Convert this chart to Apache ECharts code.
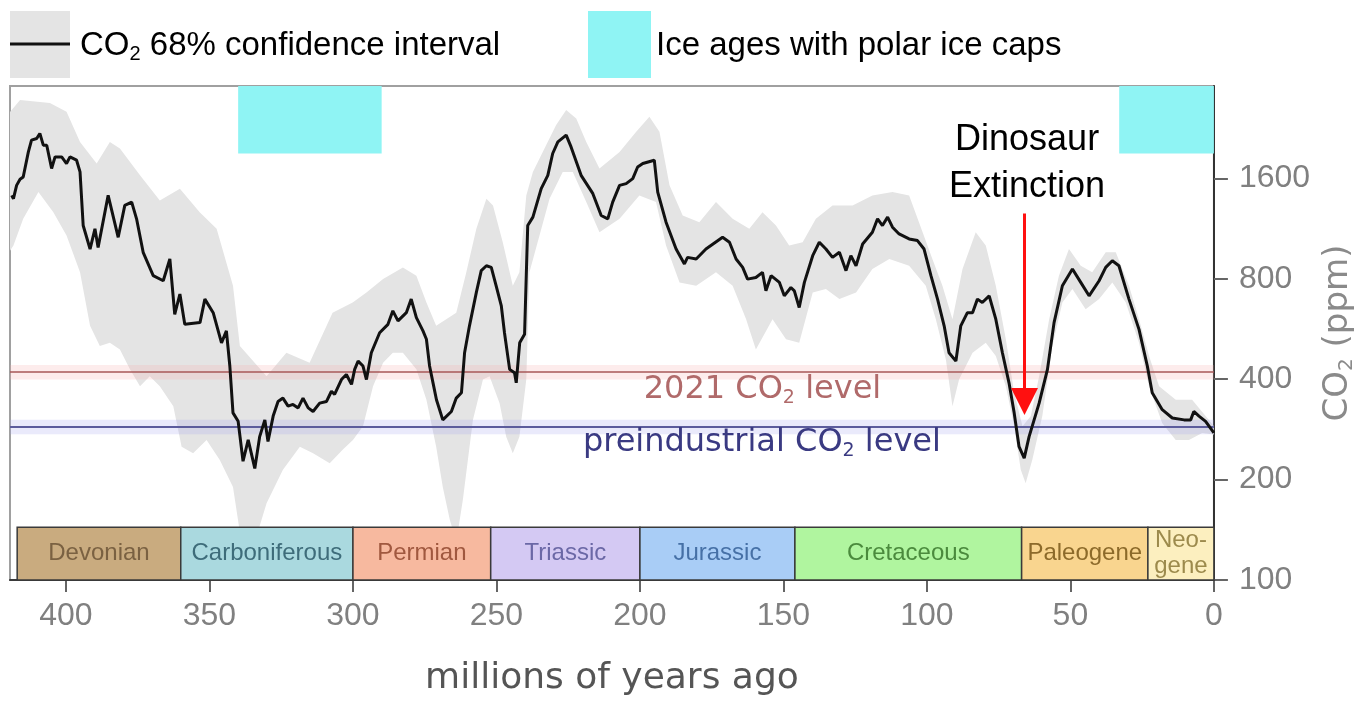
<!DOCTYPE html>
<html><head><meta charset="utf-8">
<script src="https://cdn.jsdelivr.net/npm/echarts@6/dist/echarts.min.js"></script>
<style>html,body{margin:0;padding:0;background:#fff}#c{width:1365px;height:702px}</style>
</head><body><div id="c"></div>
<script>
// ---- DATA (millions of years ago, CO2 ppm) ----
const years = [418.9,418.3,417.2,416.0,414.9,413.1,412.0,410.2,409.1,407.9,406.7,405.0,403.8,401.5,399.8,398.6,396.3,395.1,394.0,391.6,389.9,388.8,385.3,381.8,379.5,377.1,375.4,373.1,369.6,366.1,363.8,362.1,360.3,358.6,353.3,351.6,348.7,345.8,344.1,342.9,341.8,340.0,338.3,336.5,334.2,332.5,330.7,329.6,327.8,326.1,324.4,322.6,320.9,319.1,317.4,315.6,
313.9,311.6,309.2,307.5,306.4,304.0,302.3,300.5,299.4,298.2,296.5,295.3,293.6,290.7,287.8,286.1,284.3,281.4,279.7,277.9,275.6,274.4,273.3,272.1,270.9,268.7,265.7,264.0,262.2,261.1,259.4,257.0,255.3,253.5,251.8,250.1,248.3,247.2,245.4,243.7,243.1,241.9,240.2,239.1,237.3,234.4,232.1,230.4,228.6,225.7,224.0,220.5,216.4,213.5,211.2,
209.5,207.1,204.8,202.5,200.8,199.0,195.0,193.8,190.9,187.4,184.5,183.4,180.4,177.0,171.2,168.8,166.5,164.2,162.5,159.6,157.3,156.1,154.3,151.4,149.7,147.4,146.2,144.5,142.7,139.8,137.5,135.2,132.9,130.5,128.2,126.5,124.7,122.4,119.0,117.2,115.5,113.7,112.0,109.7,
106.2,103.3,101.0,98.6,96.3,94.0,92.3,89.9,88.2,85.9,84.1,82.4,80.7,78.3,76.0,73.7,71.4,69.6,67.9,66.1,64.4,60.9,58.0,55.7,52.8,49.3,46.4,43.5,40.0,37.7,35.4,33.1,29.6,26.1,23.2,21.5,18.0,14.5,10.4,8.1,7.0,5.2,2.9,0];
const co2 = [1422,1390,1524,1589,1614,1920,2082,2106,2181,2011,2011,1712,1855,1855,1772,1855,1813,1672,1155,982,1129,993,1422,1065,1327,1358,1210,960,817,789,917,626,720,584,591,695,633,514,558,438,317,299,227,263,216,269,302,260,310,343,351,332,336,328,351,328,
320,339,343,368,360,399,413,386,428,453,438,399,480,551,584,641,598,633,695,612,558,527,438,390,347,302,320,351,364,480,578,728,846,875,865,762,663,551,428,418,390,514,545,1155,1224,1490,1633,1899,2057,2156,1987,1633,1439,1238,1210,
1358,1524,1543,1597,1730,1772,1813,1455,1182,982,886,927,917,982,1065,1029,917,865,798,807,836,736,817,780,711,753,736,656,780,938,1029,982,927,960,846,938,875,1017,1103,1210,1155,1224,1142,1090,
1053,1041,982,817,695,578,480,453,578,633,633,695,679,711,605,480,390,317,251,232,269,339,428,591,762,856,780,711,789,865,906,875,695,564,438,364,324,306,302,302,320,310,299,276];

// 68% confidence interval: upper and lower edges
const upperYears = [419.5,416.0,405.6,399.8,395.1,389.3,384.7,381.2,374.2,367.3,360.3,353.4,347.5,341.8,339.4,330.1,323.2,315.1,307.1,300.1,295.3,289.5,282.6,277.9,274.4,271.0,267.5,264.0,260.5,257.0,253.5,251.2,247.8,244.3,242.0,239.6,237.3,232.7,229.2,225.7,222.2,218.7,214.1,207.1,201.3,196.7,193.2,189.7,185.1,179.3,173.5,167.7,161.9,157.3,152.6,148.0,143.3,138.7,132.9,125.9,119.0,112.0,106.2,101.5,98.1,94.6,91.1,87.6,83.0,79.5,76.0,72.5,69.6,66.7,63.8,60.9,57.4,54.0,50.5,46.4,42.4,37.7,34.2,29.6,26.1,22.6,19.1,13.3,7.6,2.9,0];
const upper = [2528,2748,2691,2533,2057,1772,2057,1965,1633,1374,1490,1267,1129,762,503,408,480,448,633,679,728,798,865,817,679,578,605,633,836,1129,1390,1327,1029,762,836,1422,1672,2011,2310,2563,2420,2057,1712,1920,2205,2447,2205,1524,1238,1182,1358,1210,1129,1267,1155,1006,1029,1210,1327,1327,1422,1455,1422,1103,917,762,605,856,1103,1006,762,527,364,289,310,408,605,817,982,875,836,960,960,762,605,469,381,347,347,310,289];
const lowerYears = [419.5,418.3,414.9,409.6,404.4,399.8,395.1,391.6,388.2,384.7,381.2,377.7,374.2,370.8,367.3,362.6,359.7,355.7,351.0,346.4,341.8,339.4,334.2,330.1,324.4,318.5,313.9,308.1,303.5,300.0,296.5,293.0,289.5,286.1,282.6,277.9,274.4,271.0,268.7,266.3,264.0,261.7,258.2,254.7,252.4,248.9,246.6,244.3,242.0,239.6,238.5,235.0,231.5,226.9,223.4,218.7,214.1,207.1,200.2,194.4,190.9,186.2,180.4,173.5,167.7,163.0,159.6,153.8,149.1,144.5,139.8,135.2,130.5,124.7,119.0,113.1,106.2,100.4,96.9,93.4,91.1,88.8,84.1,79.5,76.0,72.5,69.6,67.3,65.6,63.3,59.8,56.3,52.8,49.3,44.7,40.0,35.4,30.7,26.1,22.6,18.0,13.3,8.7,4.1,0];
const lower = [971,1006,1210,1455,1267,1078,836,578,503,514,491,428,381,408,381,332,251,240,263,229,190,139,130,170,214,251,240,224,246,263,289,381,448,480,480,428,347,251,190,152,130,174,302,399,408,339,269,240,269,399,836,1078,1390,1672,1672,1358,1103,1210,1422,1358,1006,780,762,836,762,605,491,605,527,514,728,745,695,728,856,917,875,762,605,458,332,399,480,514,469,381,289,214,195,229,310,503,679,745,648,695,780,679,514,381,295,263,263,276,273];

// geological periods
const periodNames = ['Devonian','Carboniferous','Permian','Triassic','Jurassic','Cretaceous','Paleogene','Neo-\ngene'];
const periodStart = [417,360,300,252,200,146,67,23];
const periodEnd   = [360,300,252,200,146,67,23,0];

// ice ages with polar ice caps
const iceStart = [340,33];
const iceEnd   = [290,0];

// reference levels
const co2Level2021 = 420;
const co2Preindustrial = 288;
const extinctionAge = 66;

// ticks
const xTicks = [0,50,100,150,200,250,300,350,400];
const yTicks = [100,200,400,800,1600];

// ---- STYLE ----
const FA = '"Liberation Sans", Arial, Helvetica, sans-serif';
const FD = '"DejaVu Sans", Verdana, sans-serif';
const periodFill = ['#c9ab7f','#aad9df','#f7b99f','#d4c9f3','#a9cdf6','#b0f59f','#f9d58f','#fcefbf'];
const periodText = ['#7a6142','#3e6c7a','#a0583f','#6b68a6','#4670a6','#4b8a3d','#8c6a2a','#9c8a4c'];
const Y_MIN = 100, Y_MAX = 3026;
const BAR_TOP = 144, ICE_BOTTOM = 1900;

function subRich(size, color, font, subSize) {
  return {
    a: {fontSize: size, color: color, fontFamily: font, lineHeight: size + 4},
    s: {fontSize: subSize, color: color, fontFamily: font, lineHeight: Math.round(subSize * 0.7), verticalAlign: 'bottom'}
  };
}

const chart = echarts.init(document.getElementById('c'), null, {renderer: 'canvas'});

const periodAreas = periodNames.map((n, i) => [
  {name: n, xAxis: periodStart[i], yAxis: Y_MIN,
   itemStyle: {color: periodFill[i], borderColor: '#3a3a3a', borderWidth: 1.5, opacity: 1},
   label: {show: true, position: 'inside', color: periodText[i], fontSize: 24, lineHeight: 26, fontFamily: FA}},
  {xAxis: periodEnd[i], yAxis: BAR_TOP}
]);
const iceAreas = iceStart.map((s, i) => [
  {xAxis: s, yAxis: ICE_BOTTOM, itemStyle: {color: '#8ff4f4', opacity: 1}, label: {show: false}},
  {xAxis: iceEnd[i], yAxis: Y_MAX}
]);
const haloAreas = [
  [{xAxis: 419.5, yAxis: co2Level2021 * 0.95, itemStyle: {color: 'rgba(245,170,170,0.22)'}, label: {show: false}},
   {xAxis: 0, yAxis: co2Level2021 * 1.05}],
  [{xAxis: 419.5, yAxis: co2Preindustrial * 0.95, itemStyle: {color: 'rgba(160,160,235,0.22)'}, label: {show: false}},
   {xAxis: 0, yAxis: co2Preindustrial * 1.05}]
];

const option = {
  animation: false,
  textStyle: {fontFamily: FA},
  grid: {left: 10, right: 150, top: 86, bottom: 122, show: true, borderColor: '#a0a0a0', borderWidth: 2},
  xAxis: {
    type: 'value', inverse: true, min: 0, max: 419.5,
    axisLine: {show: true, lineStyle: {color: '#3a3a3a', width: 2}},
    axisTick: {show: true, length: 12, customValues: xTicks, lineStyle: {color: '#333', width: 1.5}},
    axisLabel: {customValues: xTicks, color: '#808080', fontSize: 32, margin: 20, fontFamily: FA,
                formatter: v => String(Math.round(v))},
    splitLine: {show: false},
    name: 'millions of years ago', nameLocation: 'middle', nameGap: 81,
    nameTextStyle: {fontSize: 36, color: '#555', fontFamily: FD}
  },
  yAxis: {
    type: 'log', logBase: 2, min: Y_MIN, max: Y_MAX, position: 'right',
    axisLine: {show: true, lineStyle: {color: '#333', width: 2}},
    axisTick: {show: true, length: 14, customValues: yTicks, lineStyle: {color: '#666', width: 2}},
    axisLabel: {customValues: yTicks, color: '#808080', fontSize: 32, margin: 25, fontFamily: FA,
                formatter: v => String(Math.round(v))},
    splitLine: {show: false},
    name: '{a|CO}{s|2}{a| (ppm)}', nameLocation: 'middle', nameRotate: 90, nameGap: 87,
    nameTextStyle: {rich: subRich(34, '#8a8a8a', FD, 20)}
  },
  graphic: [
    {type: 'rect', shape: {x: 10, y: 11, width: 60, height: 67}, style: {fill: '#e4e4e4'}},
    {type: 'line', shape: {x1: 10, y1: 44, x2: 70, y2: 44}, style: {stroke: '#111', lineWidth: 3}},
    {type: 'text', x: 80, y: 46, style: {text: '{a|CO}{s|2}{a| 68% confidence interval}', rich: subRich(33, '#111', FA, 20), verticalAlign: 'middle', align: 'left'}},
    {type: 'rect', shape: {x: 588, y: 11, width: 63, height: 67}, style: {fill: '#8ff4f4'}},
    {type: 'text', x: 656, y: 46, style: {text: '{a|Ice ages with polar ice caps}', rich: subRich(33, '#111', FA, 20), verticalAlign: 'middle', align: 'left'}}
  ],
  series: [
    {
      type: 'custom', name: 'CO2 68% confidence interval', z: 1, silent: true, clip: true,
      data: [[200, 500]],
      renderItem: (params, api) => {
        const pts = [];
        for (let i = 0; i < upperYears.length; i++) pts.push(api.coord([upperYears[i], upper[i]]));
        for (let i = lowerYears.length - 1; i >= 0; i--) pts.push(api.coord([lowerYears[i], lower[i]]));
        return {type: 'polygon', shape: {points: pts}, style: {fill: '#e4e4e4'}};
      }
    },
    {
      type: 'line', name: 'CO2', z: 4, silent: true, symbol: 'none',
      data: years.map((t, i) => [t, co2[i]]),
      lineStyle: {color: '#111', width: 3},
      markArea: {z: 2, silent: true, data: [].concat(iceAreas, haloAreas, periodAreas)},
      markLine: {
        z: 3, silent: true, symbol: ['none', 'none'], label: {show: false},
        data: [
          {yAxis: co2Level2021, lineStyle: {color: '#a85858', width: 1.5, type: 'solid'}},
          {yAxis: co2Preindustrial, lineStyle: {color: '#5c5c9c', width: 2, type: 'solid'}}
        ]
      }
    },
    {
      type: 'scatter', name: 'annotations', z: 6, silent: true, symbolSize: 0,
      itemStyle: {color: '#000', opacity: 1},
      data: [
        {value: [157.3, 373], label: {color: '#b06a6a', formatter: '{a|2021 CO}{s|2}{a| level}', rich: subRich(32, '#b06a6a', FD, 19)}},
        {value: [157.5, 258], label: {color: '#3a3a82', formatter: '{a|preindustrial CO}{s|2}{a| level}', rich: subRich(32, '#3a3a82', FD, 19)}},
        {value: [65.1, 1776], label: {color: '#000', formatter: '{d|Dinosaur}\n{d|Extinction}', rich: {d: {fontSize: 36, lineHeight: 47, color: '#000', fontFamily: FA}}}}
      ],
      label: {show: true, opacity: 1, position: 'inside', align: 'center', verticalAlign: 'middle', textBorderWidth: 0, textShadowBlur: 0},
      markLine: {
        z: 7, silent: true, symbol: ['none', 'triangle'], symbolSize: 27, label: {show: false},
        lineStyle: {color: '#ff1010', width: 3, type: 'solid'},
        data: [[{coord: [extinctionAge, 1255]}, {coord: [extinctionAge, 343], itemStyle: {color: '#ff1010'}}]]
      }
    }
  ]
};
chart.setOption(option);
</script>
</body></html>
